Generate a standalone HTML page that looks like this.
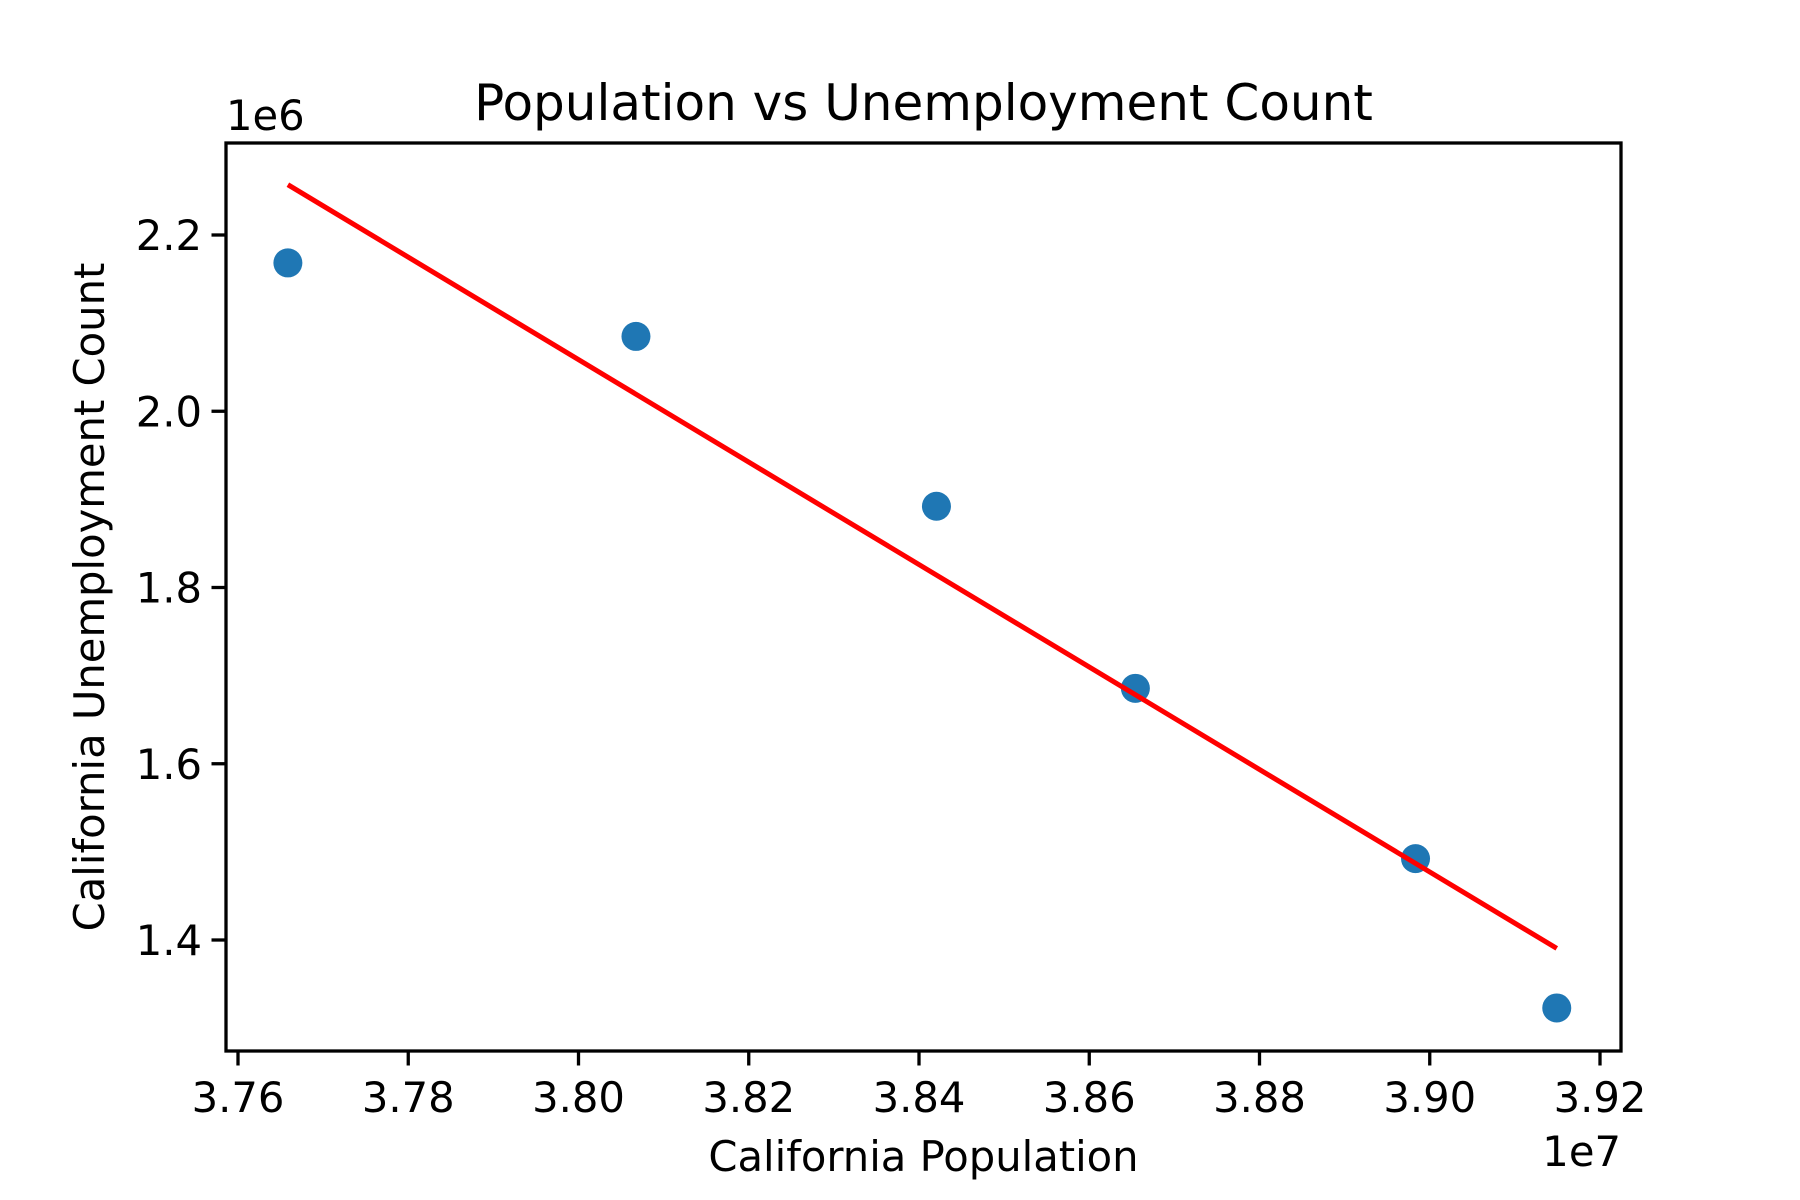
<!DOCTYPE html>
<html><head><meta charset="utf-8"><style>
html,body{margin:0;padding:0;background:#fff}
svg{display:block;font-family:"DejaVu Sans","Liberation Sans",sans-serif}
</style></head><body>
<svg id="chart" width="1800" height="1200" viewBox="0 0 1800 1200">
<rect width="1800" height="1200" fill="#fff"/>
<g id="plot"></g>
</svg>
<script>
const population = [3.76586, 3.80675, 3.84205, 3.86542, 3.89833, 3.91492];
const unemployment = [2.1683, 2.0849, 1.8922, 1.6856, 1.4923, 1.3229];
const xTicks = [3.76, 3.78, 3.80, 3.82, 3.84, 3.86, 3.88, 3.90, 3.92];
const xTickLabels = ["3.76","3.78","3.80","3.82","3.84","3.86","3.88","3.90","3.92"];
const yTicks = [1.4, 1.6, 1.8, 2.0, 2.2];
const yTickLabels = ["1.4","1.6","1.8","2.0","2.2"];

const L=226,R=1621,T=143,B=1051;
function xs(v){return 238+(v-3.76)*(1362/0.16);}
function ys(v){return 235+(2.2-v)*(705/0.8);}
const NS="http://www.w3.org/2000/svg";
const g=document.getElementById('plot');
function mk(tag,attrs,text){const e=document.createElementNS(NS,tag);for(const k in attrs)e.setAttribute(k,attrs[k]);if(text!==undefined)e.textContent=text;g.appendChild(e);return e;}

const n=population.length;
let mx=0,my=0;for(let i=0;i<n;i++){mx+=population[i];my+=unemployment[i];}mx/=n;my/=n;
let sxy=0,sxx=0;for(let i=0;i<n;i++){sxy+=(population[i]-mx)*(unemployment[i]-my);sxx+=(population[i]-mx)**2;}
const slope=sxy/sxx,icpt=my-slope*mx;
const x0=population[0],x1=population[n-1];

for(let i=0;i<n;i++){
  const c=mk('circle',{cx:xs(population[i]),cy:ys(unemployment[i]),r:14.5,fill:'#1f77b4'});
  
  
}
const ln=mk('line',{x1:xs(x0),y1:ys(slope*x0+icpt),x2:xs(x1),y2:ys(slope*x1+icpt),stroke:'#ff0000','stroke-width':5});



const fr=mk('rect',{x:L,y:T,width:R-L,height:B-T,fill:'none',stroke:'#000','stroke-width':3.3});



for(let i=0;i<xTicks.length;i++){
  const x=xs(xTicks[i]);
  const t=mk('line',{x1:x,y1:B,x2:x,y2:B+14.5,stroke:'#000','stroke-width':3.3});
  
  
  const lb=mk('text',{x:x,y:1112,'font-size':41.7,'text-anchor':'middle',fill:'#000'},xTickLabels[i]);
  
  
}
for(let i=0;i<yTicks.length;i++){
  const y=ys(yTicks[i]);
  const t=mk('line',{x1:L,y1:y,x2:L-14.5,y2:y,stroke:'#000','stroke-width':3.3});
  
  
  const lb=mk('text',{x:L-24,y:y+15,'font-size':41.7,'text-anchor':'end',fill:'#000'},yTickLabels[i]);
  
  
}
const tt=mk('text',{x:(L+R)/2,y:120,'font-size':50,'text-anchor':'middle',fill:'#000'},'Population vs Unemployment Count');


const xl=mk('text',{x:(L+R)/2,y:1171,'font-size':41.7,'text-anchor':'middle',fill:'#000'},'California Population');


const yl=mk('text',{x:0,y:0,'font-size':41.7,'text-anchor':'middle',fill:'#000',transform:'translate(104,'+((T+B)/2)+') rotate(-90)'},'California Unemployment Count');


const e7=mk('text',{x:R,y:1166,'font-size':41.7,'text-anchor':'end',fill:'#000'},'1e7');


const e6=mk('text',{x:L,y:130,'font-size':41.7,'text-anchor':'start',fill:'#000'},'1e6');


</script>
</body></html>
